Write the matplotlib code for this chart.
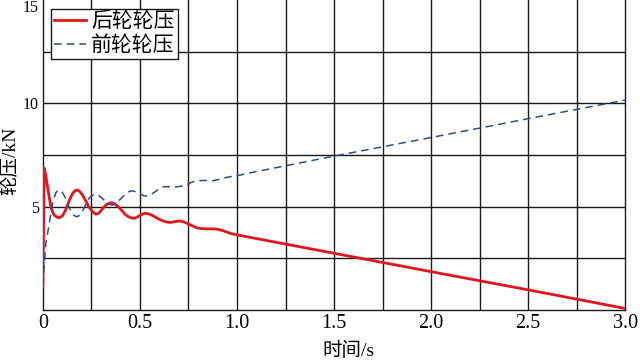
import matplotlib
matplotlib.use('Agg')
import matplotlib.pyplot as plt
import numpy as np

plt.rcParams['font.family'] = ['Liberation Serif', 'Noto Sans CJK SC', 'DejaVu Sans']

# rear wheel pressure (kN)
rear_t = [0.0, 0.004, 0.007, 0.015, 0.024, 0.033, 0.041, 0.05, 0.058, 0.072,
          0.085, 0.10, 0.115, 0.127, 0.14, 0.153, 0.166, 0.179, 0.192, 0.205,
          0.22, 0.235, 0.247, 0.26, 0.273, 0.287, 0.30, 0.316, 0.33, 0.345,
          0.356, 0.37, 0.383, 0.395, 0.41, 0.425, 0.44, 0.455, 0.471, 0.49,
          0.505, 0.52, 0.534, 0.55, 0.57, 0.59, 0.61, 0.633, 0.655, 0.68,
          0.706, 0.725, 0.745, 0.77, 0.79, 0.81, 0.85, 0.88, 0.90, 0.925,
          0.947, 0.97, 1.0, 1.067, 1.5, 2.0, 2.5, 3.0]
rear_p = [1.13, 4.5, 6.86, 6.5, 5.97, 5.45, 5.0, 4.75, 4.6, 4.5,
          4.47, 4.55, 4.8, 5.08, 5.4, 5.64, 5.78, 5.81, 5.72, 5.55,
          5.3, 5.02, 4.87, 4.72, 4.64, 4.68, 4.82, 5.0, 5.12, 5.19,
          5.19, 5.14, 5.04, 4.94, 4.78, 4.62, 4.52, 4.46, 4.44, 4.52,
          4.61, 4.67, 4.68, 4.64, 4.55, 4.44, 4.35, 4.27, 4.24, 4.28,
          4.31, 4.27, 4.19, 4.08, 3.99, 3.95, 3.93, 3.93, 3.91, 3.85,
          3.78, 3.7, 3.64, 3.52, 2.75, 1.86, 0.98, 0.08]

# front wheel pressure (kN)
front_t = [0.0, 0.008, 0.015, 0.025, 0.033, 0.042, 0.05, 0.06, 0.067, 0.078,
           0.088, 0.10, 0.115, 0.13, 0.144, 0.16, 0.172, 0.185, 0.20, 0.213,
           0.228, 0.242, 0.26, 0.277, 0.295, 0.316, 0.336, 0.356, 0.375, 0.39,
           0.41, 0.43, 0.445, 0.46, 0.48, 0.505, 0.52, 0.534, 0.555, 0.577,
           0.60, 0.62, 0.655, 0.689, 0.715, 0.741, 0.765, 0.792, 0.83, 0.878,
           0.91, 0.947, 0.98, 1.015, 1.067, 1.5, 2.0, 2.5, 3.0]
front_p = [1.2, 2.3, 3.23, 3.75, 4.19, 4.7, 5.16, 5.5, 5.68, 5.78,
           5.8, 5.7, 5.45, 5.1, 4.8, 4.58, 4.52, 4.55, 4.72, 4.95,
           5.25, 5.46, 5.58, 5.61, 5.5, 5.32, 5.15, 5.08, 5.14, 5.28,
           5.47, 5.65, 5.74, 5.77, 5.72, 5.6, 5.53, 5.52, 5.58, 5.72,
           5.88, 5.97, 5.97, 5.96, 6.0, 6.06, 6.18, 6.26, 6.27, 6.26,
           6.33, 6.42, 6.48, 6.53, 6.64, 7.45, 8.35, 9.26, 10.16]

xticks = [0, 0.5, 1.0, 1.5, 2.0, 2.5, 3.0]
xtick_labels = ['0', '0.5', '1.0', '1.5', '2.0', '2.5', '3.0']
yticks = [5, 10, 15]

fig = plt.figure(figsize=(6.4, 3.64), dpi=100)
ax = fig.add_axes([0.067, 0.148, 0.910, 0.852])

ax.plot(rear_t, rear_p, color='#e4161d', linewidth=2.0, label='后轮轮压', zorder=3)
ax.plot(front_t, front_p, color='#2e4d8f', linewidth=1.1, linestyle=(0, (5, 3.3)),
        label='前轮轮压', zorder=3)

ax.set_xlim(0, 3.0)
ax.set_ylim(0, 15)

# grid every 0.25 s and 2.5 kN
for gx in np.arange(0.25, 3.0, 0.25):
    ax.axvline(gx, color='#1a1a1a', linewidth=1.0, zorder=1)
for gy in np.arange(2.5, 15.0, 2.5):
    ax.axhline(gy, color='#1a1a1a', linewidth=1.0, zorder=1)

ax.set_xticks(xticks)
ax.set_xticklabels(xtick_labels)
ax.set_yticks(yticks)
ax.tick_params(length=0)
ax.tick_params(axis='x', labelsize=14.5, pad=3)
ax.tick_params(axis='y', labelsize=11.5, pad=3)
ax.yaxis.get_major_ticks()[-1].label1.set_verticalalignment('top')

for side in ['left', 'bottom', 'right']:
    ax.spines[side].set_color('#1a1a1a')
    ax.spines[side].set_linewidth(1.0)
ax.spines['top'].set_visible(False)

ax.set_xlabel('时间/s', fontsize=14)
ax.xaxis.set_label_coords(0.524, -0.102)
ax.set_ylabel('轮压/kN', fontsize=14)
ax.yaxis.set_label_coords(-0.04, 0.48)

leg = ax.legend(loc='upper left', bbox_to_anchor=(0.0135, 0.97), fontsize=15,
                frameon=True, fancybox=False, edgecolor='#1a1a1a', framealpha=1,
                handlelength=1.55, borderpad=0.15, labelspacing=0.2,
                handletextpad=0.25, borderaxespad=0)
leg.get_frame().set_linewidth(1.0)

fig.savefig('out.png', dpi=100)
